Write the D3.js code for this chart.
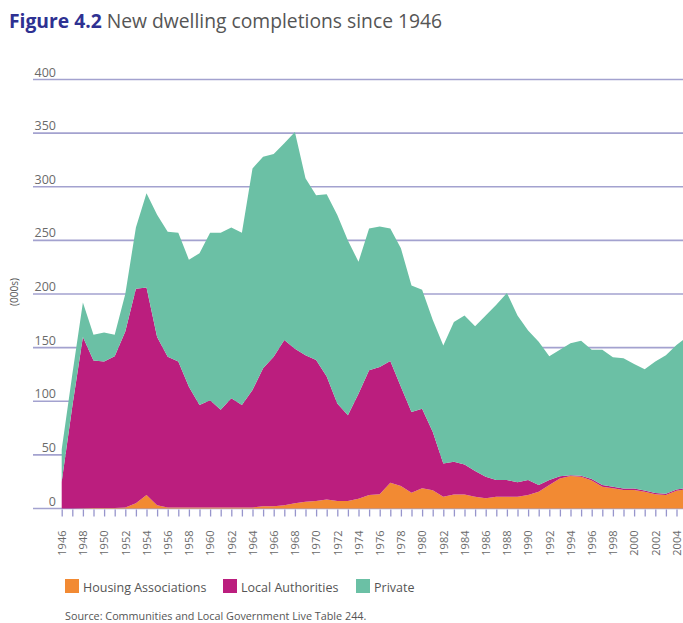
<!DOCTYPE html>
<html>
<head>
<meta charset="utf-8">
<script src="https://cdn.jsdelivr.net/npm/d3@7"></script>
<style>
  body { margin: 0; background: #fff; }
  svg { display: block; font-family: "Open Sans", "Noto Sans", sans-serif; }
</style>
</head>
<body>
<div id="chart"></div>
<script>
(function (d3) {
    'use strict';

    var years = d3.range(1946, 2006);

    // completions in thousands
    var housingAssociations = [
        0, 0, 0.3, 0.5, 0.5, 0.5, 1, 5, 12.6, 3,
        1, 1, 1, 1, 1, 1, 1, 1, 1, 2,
        2, 3, 4.8, 6.3, 7, 8.5, 7, 7, 9, 12.6,
        13.2, 24, 21, 14.8, 18.8, 17, 11, 13, 13, 11,
        9.5, 11, 11, 11, 12.6, 15.7, 22, 28, 30.3, 29.6,
        26, 20.3, 18.8, 17.2, 17.2, 15.7, 13.2, 12.6, 16.6, 18
    ];
    var localAuthorities = [
        25, 95, 159.7, 137.5, 136.5, 141.5, 164, 200, 193.4, 157,
        140.5, 136, 112.6, 95.5, 100, 91, 101.7, 95.5, 109.5, 128.7,
        139.5, 154, 144.2, 136.7, 131.5, 114.5, 91, 80, 98, 116.4,
        118.8, 113.5, 92.6, 75.2, 74.2, 54.6, 31, 30.6, 28, 24,
        20.2, 15.6, 15.6, 13.4, 14, 6.3, 4.6, 2, 0.7, 0.9,
        1.5, 1.5, 1.5, 1.5, 1.5, 1.2, 1.2, 1.2, 1.2, 1.2
    ];
    var privateSector = [
        30, 30, 32, 24, 27, 20, 35, 57, 88, 114,
        116.5, 120, 118.4, 141.5, 156, 165, 159.3, 160.5, 206.5, 197.3,
        189, 183.5, 202, 165, 153.5, 170, 175.7, 163, 123, 132,
        131, 123.5, 129, 118, 111, 104.4, 110, 130.4, 139, 135,
        150.3, 163.4, 174.4, 155.6, 139.4, 133.5, 115.4, 118, 123, 126,
        120.5, 126.2, 120.7, 121.3, 116, 112.9, 122.6, 129.2, 134.6, 140.8
    ];
    var yTicks = [0, 50, 100, 150, 200, 250, 300, 350, 400];

    var seriesNames = ['Housing Associations', 'Local Authorities', 'Private'];
    var colours = ['#f28a33', '#bb1e7e', '#6bc0a5'];

    var width = 683,
        height = 623;

    var rows = years.map(function (y, i) {
        return {
            year: y,
            'Housing Associations': housingAssociations[i],
            'Local Authorities': localAuthorities[i],
            'Private': privateSector[i]
        };
    });

    var stack = d3.stack().keys(seriesNames);
    var layers = stack(rows);

    var x = d3.scaleLinear().domain([1946, 2005]).range([61.7, 687.1]);
    var y = d3.scaleLinear().domain([0, 400]).range([508.5, 79.5]);
    var colour = d3.scaleOrdinal().domain(seriesNames).range(colours);

    var svg = d3.select('#chart').append('svg')
        .attr('width', width)
        .attr('height', height);

    svg.append('text')
        .attr('x', 9)
        .attr('y', 28)
        .attr('font-size', 19.3)
        .attr('fill', '#555')
        .call(function (t) {
            t.append('tspan').attr('fill', '#2e3192').attr('font-weight', 700).text('Figure 4.2');
            t.append('tspan').text(' New dwelling completions since 1946');
        });

    // gridlines
    svg.append('g')
        .selectAll('line')
        .data(yTicks)
        .enter().append('line')
        .attr('x1', 33)
        .attr('x2', width)
        .attr('y1', function (d) { return y(d); })
        .attr('y2', function (d) { return y(d); })
        .attr('stroke', '#a3a2cf')
        .attr('stroke-width', 1.6);

    var area = d3.area()
        .x(function (d) { return x(d.data.year); })
        .y0(function (d) { return y(d[0]); })
        .y1(function (d) { return y(d[1]); });

    svg.append('g')
        .selectAll('path')
        .data(layers)
        .enter().append('path')
        .attr('fill', function (d) { return colour(d.key); })
        .attr('d', area);

    // y labels sit on top of their gridlines
    svg.append('g')
        .selectAll('text')
        .data(yTicks)
        .enter().append('text')
        .attr('x', 56)
        .attr('y', function (d) { return y(d) - 3; })
        .attr('text-anchor', 'end')
        .attr('font-size', 12.5)
        .attr('fill', '#6a6a6a')
        .text(function (d) { return d; });

    svg.append('text')
        .attr('transform', 'translate(18,292) rotate(-90)')
        .attr('text-anchor', 'middle')
        .attr('font-size', 10)
        .attr('fill', '#555')
        .text('(000s)');

    var xAxis = d3.axisBottom(x)
        .tickValues(years)
        .tickSize(7)
        .tickFormat(function (d) { return d % 2 === 0 ? d : ''; });

    var gx = svg.append('g')
        .attr('transform', 'translate(0,' + (y(0) + 1) + ')')
        .call(xAxis);
    gx.select('.domain').remove();
    gx.selectAll('.tick line').attr('stroke', '#9795cc').attr('stroke-width', 1.3);
    gx.selectAll('.tick text')
        .attr('fill', '#6a6a6a')
        .attr('font-size', 11)
        .attr('font-family', '"Open Sans", "Noto Sans", sans-serif')
        .attr('text-anchor', 'end')
        .attr('transform', 'rotate(-90)')
        .attr('x', -21)
        .attr('y', 0)
        .attr('dy', '0.35em');

    var legend = svg.append('g')
        .selectAll('g')
        .data(seriesNames)
        .enter().append('g')
        .attr('transform', function (d, i) { return 'translate(' + [65, 223, 356][i] + ',579)'; });
    legend.append('rect')
        .attr('width', 14)
        .attr('height', 14)
        .attr('fill', function (d) { return colour(d); });
    legend.append('text')
        .attr('x', 18)
        .attr('y', 12.5)
        .attr('font-size', 12.5)
        .attr('fill', '#555')
        .text(function (d) { return d; });

    svg.append('text')
        .attr('x', 65)
        .attr('y', 620)
        .attr('font-size', 10.8)
        .attr('fill', '#555')
        .text('Source: Communities and Local Government Live Table 244.');
})(d3);
</script>
</body>
</html>
